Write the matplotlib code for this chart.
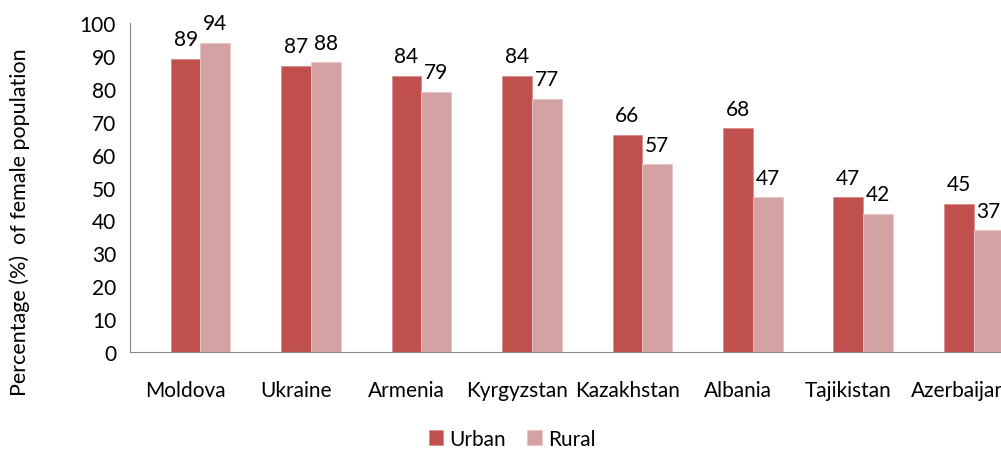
import matplotlib
matplotlib.use("Agg")
import matplotlib.pyplot as plt
import matplotlib.transforms as mtransforms
import numpy as np

countries = ["Moldova", "Ukraine", "Armenia", "Kyrgyzstan", "Kazakhstan", "Albania", "Tajikistan", "Azerbaijan"]
urban = [89, 87, 84, 84, 66, 68, 47, 45]
rural = [94, 88, 79, 77, 57, 47, 42, 37]

plt.rcParams['font.family'] = ['Lato', 'DejaVu Sans']
W, H = 1001, 452
fig = plt.figure(figsize=(W/100, H/100), dpi=100)

left_px, right_px = 130, 1029
bottom_px, top_px = 353, 24
ax = fig.add_axes([left_px/W, 1 - bottom_px/H, (right_px-left_px)/W, (bottom_px-top_px)/H])

x = np.arange(len(countries))
bw = 0.27
c_urban = "#C0504D"
c_rural = "#D4A2A2"
b1 = ax.bar(x - bw/2, urban, bw, color=c_urban, edgecolor="#D98C8A", linewidth=0.6, label="Urban")
b2 = ax.bar(x + bw/2, rural, bw, color=c_rural, edgecolor="#E6C6C6", linewidth=0.6, label="Rural")

fs = 15
for xi, v in zip(x - bw/2, urban):
    ax.annotate(str(v), (xi, v), xytext=(0, 7), textcoords="offset points", ha="center", va="bottom", fontsize=fs)
for xi, v in zip(x + bw/2, rural):
    ax.annotate(str(v), (xi, v), xytext=(0, 7), textcoords="offset points", ha="center", va="bottom", fontsize=fs)

ax.set_xlim(-0.638, 7.5)
ax.set_ylim(0, 100)
ax.set_yticks(range(0, 101, 10))
ax.set_xticks(x)
ax.set_xticklabels(countries, fontsize=fs)
ax.tick_params(axis='both', length=0, labelsize=fs)
ax.tick_params(axis='x', pad=20)
ax.tick_params(axis='y', pad=10)
shift = mtransforms.ScaledTranslation(-15/100, 0, fig.dpi_scale_trans)
for lab in ax.get_xticklabels():
    lab.set_transform(lab.get_transform() + shift)
for s in ["top", "right"]:
    ax.spines[s].set_visible(False)
ax.spines["left"].set_color("#868686")
ax.spines["bottom"].set_color("#868686")

fig.text(20/W, 1 - 222/H, "Percentage (%)  of female population", rotation=90, ha="center", va="center", fontsize=fs+0.5)

fig.legend(handles=[b1, b2], loc="center", bbox_to_anchor=(512/W, 1 - 440/H), ncol=2, frameon=False,
           fontsize=fs, handlelength=0.7, handleheight=0.7, handletextpad=0.3, columnspacing=1.0)

fig.savefig("out.png", dpi=100)
